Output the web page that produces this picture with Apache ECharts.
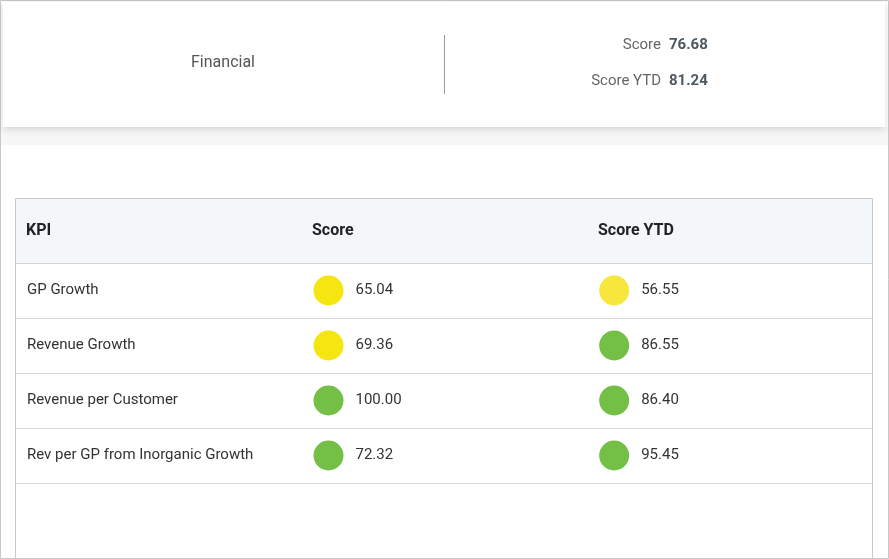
<!DOCTYPE html><html><head><meta charset="utf-8"><script src="https://cdn.jsdelivr.net/npm/echarts@6/dist/echarts.min.js"></script>
<style>html,body{margin:0;padding:0;background:#fff}#c{width:889px;height:559px}</style></head><body><div id="c"></div><script>
const kpis=['GP Growth','Revenue Growth','Revenue per Customer','Rev per GP from Inorganic Growth'];
const score=[65.04,69.36,100.00,72.32];
const scoreYtd=[56.55,86.55,86.40,95.45];
const headers=['KPI','Score','Score YTD'];
const summaryTitle='Financial';
const summaryScore=76.68, summaryScoreYtd=81.24;
const F='Roboto, "Noto Sans", sans-serif';
function col(v){return v<60?'#f7e73c':(v<70?'#f5e612':'#74bf45');}
const chart=echarts.init(document.getElementById('c'));
const g=[
 {type:'rect',shape:{x:0.5,y:0.5,width:888,height:558},style:{fill:'#fff',stroke:'#c8c8c8',lineWidth:1},z:-10},
 {type:'rect',shape:{x:1,y:127,width:887,height:18},style:{fill:'#f6f6f6'},z:-9},
 {type:'rect',shape:{x:3,y:2,width:882,height:125},style:{fill:'#fff',shadowBlur:8,shadowColor:'rgba(0,0,0,0.15)',shadowOffsetY:2},z:-8},
 {type:'text',style:{text:summaryTitle,x:223,y:63,align:'center',verticalAlign:'middle',font:'16px '+F,fill:'#555'}},
 {type:'line',shape:{x1:444.5,y1:35,x2:444.5,y2:94},style:{stroke:'#999',lineWidth:1}},
 {type:'text',style:{text:'Score',x:661,y:45,align:'right',verticalAlign:'middle',font:'15px '+F,fill:'#666'}},
 {type:'text',style:{text:summaryScore.toFixed(2),x:669,y:45,align:'left',verticalAlign:'middle',font:'bold 15px '+F,fill:'#4d5862'}},
 {type:'text',style:{text:'Score YTD',x:661,y:81,align:'right',verticalAlign:'middle',font:'15px '+F,fill:'#666'}},
 {type:'text',style:{text:summaryScoreYtd.toFixed(2),x:669,y:81,align:'left',verticalAlign:'middle',font:'bold 15px '+F,fill:'#4d5862'}},
 {type:'rect',shape:{x:15.5,y:198.5,width:857,height:360},style:{fill:'#fff',stroke:'#c9c9c9',lineWidth:1},z:-7},
 {type:'rect',shape:{x:16,y:199,width:856,height:64},style:{fill:'#f3f7fa'},z:-6},
 {type:'line',shape:{x1:16,y1:263.5,x2:872,y2:263.5},style:{stroke:'#cfd4d8',lineWidth:1},z:-5}
];
for(let i=1;i<=kpis.length;i++){g.push({type:'line',shape:{x1:16,y1:263.5+55*i,x2:872,y2:263.5+55*i},style:{stroke:'#d8d8d8',lineWidth:1},z:-5});}
headers.forEach((h,i)=>g.push({type:'text',style:{text:h,x:26+286*i,y:231,verticalAlign:'middle',font:'bold 16px '+F,fill:'#222'}}));
function ser(name,vals,ci){return {name,type:'scatter',symbol:'circle',symbolSize:30,symbolOffset:[-115,0],
 data:vals.map((v,i)=>({value:[headers[ci],kpis[i]],raw:v,itemStyle:{color:col(v),opacity:1}})),
 label:{show:true,position:'right',distance:12,verticalAlign:'middle',formatter:p=>p.data.raw.toFixed(2),fontSize:15,fontFamily:F,color:'#333'}};}
chart.setOption({animation:false,graphic:g,
 grid:{left:15,right:17,top:263,height:220},
 xAxis:{type:'category',data:headers,show:false},
 yAxis:{type:'category',data:kpis,inverse:true,axisLine:{show:false},axisTick:{show:false},splitLine:{show:false},
  axisLabel:{inside:true,margin:12,fontSize:15,fontFamily:F,color:'#333'}},
 series:[ser('Score',score,1),ser('Score YTD',scoreYtd,2)]});
</script></body></html>
